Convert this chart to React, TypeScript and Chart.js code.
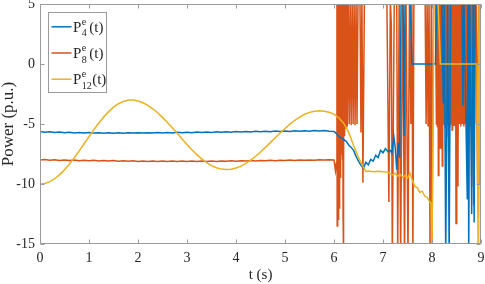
import React, { useEffect, useRef } from "react";
import { Chart, registerables } from "chart.js";

Chart.register(...registerables);

// ---------- data ----------
const X_TICKS = [0, 1, 2, 3, 4, 5, 6, 7, 8, 9];
const Y_TICKS = [-15, -10, -5, 0, 5];
const X_TITLE = "t (s)";
const Y_TITLE = "Power (p.u.)";
const SERIES_SUBS = ["4", "8", "12"];

// common time base 0..6 s (0.1 s)
const BASE_T = [
  0.0, 0.1, 0.2, 0.3, 0.4, 0.5, 0.6, 0.7, 0.8, 0.9,
  1.0, 1.1, 1.2, 1.3, 1.4, 1.5, 1.6, 1.7, 1.8, 1.9,
  2.0, 2.1, 2.2, 2.3, 2.4, 2.5, 2.6, 2.7, 2.8, 2.9,
  3.0, 3.1, 3.2, 3.3, 3.4, 3.5, 3.6, 3.7, 3.8, 3.9,
  4.0, 4.1, 4.2, 4.3, 4.4, 4.5, 4.6, 4.7, 4.8, 4.9,
  5.0, 5.1, 5.2, 5.3, 5.4, 5.5, 5.6, 5.7, 5.8, 5.9,
  6.0,
];

const P4_BASE = [
  -5.62, -5.68, -5.64, -5.70, -5.66, -5.72, -5.68, -5.74, -5.70, -5.75,
  -5.71, -5.76, -5.72, -5.77, -5.73, -5.77, -5.73, -5.77, -5.73, -5.76,
  -5.72, -5.76, -5.72, -5.75, -5.71, -5.75, -5.70, -5.74, -5.69, -5.73,
  -5.68, -5.72, -5.67, -5.71, -5.66, -5.70, -5.65, -5.69, -5.64, -5.68,
  -5.63, -5.67, -5.62, -5.66, -5.61, -5.65, -5.60, -5.64, -5.59, -5.63,
  -5.58, -5.62, -5.57, -5.61, -5.56, -5.60, -5.55, -5.59, -5.55, -5.60,
  -5.62,
];
const P4_TAIL_T = [
  6.05, 6.1, 6.15, 6.2, 6.25, 6.3, 6.35, 6.4, 6.45, 6.5, 6.55, 6.6, 6.65, 6.7, 6.75,
  6.8, 6.85, 6.9, 6.95, 7.0, 7.05, 7.1, 7.15, 7.18, 7.22, 7.25, 7.28, 7.31, 7.34,
  7.37, 7.41, 7.43, 7.45, 7.55, 7.59, 8.07, 8.1, 8.2, 8.23, 8.25, 8.28, 8.32, 8.35,
  8.38, 8.61, 8.63, 8.65, 8.72, 8.735, 8.75, 8.77, 8.81, 8.84, 8.86, 8.88, 9.0,
];
const P4_TAIL_V = [
  -5.8, -6.05, -6.15, -6.3, -6.45, -6.75, -6.95, -7.2, -7.7, -8.1, -8.45, -8.67, -8.2, -8.4, -7.95,
  -8.1, -7.6, -7.8, -7.2, -7.4, -7.05, -7.3, -7.2, -7.45, -6.0, -7.0, -8.8, -6.6, -7.8,
  5.5, 5.5, -6.0, 5.5, 5.5, 0, 0, 5.5, 5.5, -3.3, 5.5, -16, 5.5, -16,
  5.5, 5.5, -3.5, 5.5, -11.3, 5.5, -16, 5.5, -12.5, 5.5, -13.2, 5.5, 5.5,
];

const P8_BASE = [
  -8.00, -7.96, -8.02, -7.98, -8.04, -8.00, -8.05, -8.01, -8.06, -8.02,
  -8.07, -8.03, -8.08, -8.04, -8.09, -8.05, -8.10, -8.06, -8.11, -8.07,
  -8.12, -8.08, -8.12, -8.08, -8.13, -8.09, -8.13, -8.09, -8.13, -8.09,
  -8.13, -8.09, -8.13, -8.09, -8.12, -8.08, -8.12, -8.08, -8.11, -8.07,
  -8.10, -8.06, -8.09, -8.05, -8.08, -8.04, -8.07, -8.03, -8.06, -8.02,
  -8.05, -8.01, -8.04, -8.00, -8.03, -7.99, -8.02, -7.98, -8.01, -7.97,
  -8.00,
];
const P8_TAIL_T = [
  6.03, 6.05, 6.06, 6.065, 6.07, 6.075, 6.08, 6.085, 6.09, 6.095, 6.10, 6.105, 6.11, 6.115, 6.12,
  6.125, 6.13, 6.135, 6.14, 6.145, 6.15, 6.155, 6.16, 6.165, 6.17, 6.175, 6.18, 6.185, 6.19,
  6.195, 6.20, 6.205, 6.21, 6.215, 6.22, 6.225, 6.23, 6.235, 6.24, 6.245, 6.25, 6.255, 6.26,
  6.265, 6.27, 6.29, 6.31, 6.33, 6.35,
  6.37, 6.39, 6.41, 6.43, 6.45, 6.47, 6.49, 6.53, 6.55, 6.57, 6.59, 6.62, 7.08, 7.12,
  7.15, 7.17, 7.19, 7.23, 7.28, 7.30, 7.33, 7.36, 7.40, 7.44, 7.47, 7.51, 7.54, 7.57,
  7.59, 7.61, 7.63, 7.86, 7.88, 7.90, 7.92, 7.94, 7.96, 7.985, 8.00, 8.03, 8.07,
  8.09, 8.10, 8.11, 8.12, 8.13, 8.14, 8.15, 8.16, 8.17, 8.18,
  8.19, 8.20, 8.21, 8.22, 8.23, 8.24, 8.25, 8.26, 8.27, 8.28,
  8.29, 8.30, 8.31, 8.32, 8.33, 8.34, 8.35, 8.36, 8.37, 8.38,
  8.39, 8.40, 8.41, 8.42, 8.43, 8.44, 8.45, 8.46, 8.47, 8.48,
  8.49, 8.50, 8.51, 8.52, 8.53, 8.54, 8.55, 8.56, 8.57, 8.58,
  8.59, 8.60, 8.61, 8.62, 8.63, 8.64, 8.65, 8.66, 8.67, 8.68,
  8.69, 8.70, 8.71, 8.72, 8.73, 8.74, 8.75, 8.76, 8.77, 8.78,
  8.79, 8.80, 8.81, 8.82, 8.83, 8.84, 8.85, 8.86, 8.87, 8.88,
  8.90, 8.93, 8.95, 8.97, 8.99, 9.0,
];
const P8_TAIL_V = [
  -8.9, -8.2, 5.5, -13.5, 5.5, -11.0, 5.5, -9.0, 5.5, -13.0, 5.5, -12.0, 5.5, -7.0, 5.5,
  -6.5, 5.5, -9.5, 5.5, -7.5, 5.5, -6.0, 5.5, -5.5, 5.5, -8.0, 5.5, -12.5, -16,
  5.5, -10.0, 5.5, -5.8, 5.5, -6.0, 5.5, -5.4, 5.5, -5.3, 5.5, -5.3, 5.5, -5.2,
  5.5, -5.2, 5.5, -5.0, 5.5, -5.1,
  5.5, -5.0, 5.5, -5.1, 5.5, -5.0, 5.5, 5.5, -5.7, 5.5, -9.9, 5.0, 5.0, -11.5,
  5.5, 3.2, -16, 5.5, 5.5, -16, 5.5, -16, 5.5, -16, 5.5, -16, 5.5, -5.0,
  5.5, -16, 5.0, 5.0, -5.0, 5.5, -5.2, 5.5, -16, 5.5, -16, 5.5, 5.5,
  -5.0, 5.5, -5.2, 5.5, -9.3, 5.5, -5.0, 5.5, -7.0, 5.5,
  -5.1, 5.5, -8.5, 5.5, -5.0, 5.5, -5.0, 5.5, -5.3, 5.5,
  -6.0, 5.5, -5.0, 5.5, -5.0, 5.5, -5.2, 5.5, -5.0, 5.5,
  -5.0, 5.5, -5.5, 5.5, -5.0, 5.5, -5.1, 5.5, -5.0, 5.5,
  -13.3, 5.5, -8.0, 5.5, -10.2, 5.5, -5.0, 5.5, -5.0, 5.5,
  -5.2, 5.5, -5.0, 5.5, -5.0, 5.5, -5.2, 5.5, -5.0, 5.5,
  -5.0, 5.5, -5.1, 5.5, -5.0, 5.5, -5.0, 5.5, -5.0, 5.5,
  -5.2, 5.5, -10.2, 5.5, -6.0, 5.5, -11.8, 5.5, -5.0, 5.5,
  5.5, -10.0, 5.5, -10.0, 5.5, -10.0,
];

const P12_BASE = [
  -10.0, -9.95, -9.80, -9.56, -9.22, -8.81, -8.33, -7.81, -7.24, -6.65,
  -6.06, -5.47, -4.92, -4.42, -3.97, -3.60, -3.31, -3.12, -3.01, -3.01,
  -3.08, -3.23, -3.45, -3.73, -4.06, -4.45, -4.87, -5.32, -5.78, -6.25,
  -6.71, -7.14, -7.55, -7.91, -8.22, -8.47, -8.65, -8.76, -8.80, -8.77,
  -8.67, -8.51, -8.28, -8.01, -7.69, -7.33, -6.95, -6.55, -6.15, -5.75,
  -5.37, -5.01, -4.69, -4.42, -4.19, -4.03, -3.93, -3.90, -3.93, -4.02,
  -4.18,
];
const P12_TAIL_T = [
  6.1, 6.2, 6.3, 6.4, 6.5, 6.6, 6.65, 6.7, 6.8, 6.9, 7.0, 7.1, 7.15, 7.2, 7.25, 7.3,
  7.35, 7.4, 7.45, 7.5, 7.55, 7.6, 7.65, 7.7, 7.75, 7.8, 7.85, 7.9, 7.95, 7.98, 8.0,
  8.04, 8.12, 8.17, 8.92, 8.94, 8.96, 8.99,
];
const P12_TAIL_V = [
  -4.5, -4.95, -5.7, -6.8, -7.8, -8.6, -8.95, -8.92, -8.97, -8.93, -8.98, -9.0, -9.15, -9.25, -9.1, -9.35,
  -9.2, -9.45, -9.3, -9.5, -9.1, -9.7, -10.2, -10.3, -10.7, -10.6, -11.0, -11.1, -11.45, -11.6, -16,
  5.5, 5.5, 0, 0, -16, 5.5, -16,
];

// ---------- styles ----------
const COLORS = ["#0072BD", "#D95319", "#EDB120"];
const AXIS_COLOR = "#9a9a9a";
const TEXT_COLOR = "#262626";
const FONT = "'Liberation Serif', 'Times New Roman', serif";

function toPoints(t1: number[], v1: number[], t2: number[], v2: number[]) {
  const pts: { x: number; y: number }[] = [];
  t1.forEach((t, i) => pts.push({ x: t, y: v1[i] }));
  t2.forEach((t, i) => pts.push({ x: t, y: v2[i] }));
  return pts;
}

const framePlugin = {
  id: "matlabFrame",
  afterDatasetsDraw(chart: any) {
    const { ctx, chartArea: a, scales } = chart;
    ctx.save();
    ctx.strokeStyle = AXIS_COLOR;
    ctx.lineWidth = 1;
    const L = Math.round(a.left) + 0.5;
    const R = Math.round(a.right) - 0.5;
    const T = Math.round(a.top) + 0.5;
    const B = Math.round(a.bottom) - 0.5;
    ctx.beginPath();
    ctx.rect(L, T, R - L, B - T);
    scales.x.ticks.forEach((tk: any) => {
      const px = Math.round(scales.x.getPixelForValue(tk.value)) + 0.5;
      ctx.moveTo(px, B);
      ctx.lineTo(px, B - 4);
      ctx.moveTo(px, T);
      ctx.lineTo(px, T + 4);
    });
    scales.y.ticks.forEach((tk: any) => {
      const py = Math.round(scales.y.getPixelForValue(tk.value)) + 0.5;
      ctx.moveTo(L, py);
      ctx.lineTo(L + 4, py);
      ctx.moveTo(R, py);
      ctx.lineTo(R - 4, py);
    });
    ctx.stroke();

    // legend
    const bx = 48.5, by = 12.5, bw = 58, bh = 80;
    ctx.fillStyle = "#ffffff";
    ctx.fillRect(bx, by, bw, bh);
    ctx.strokeStyle = AXIS_COLOR;
    ctx.strokeRect(bx, by, bw, bh);
    SERIES_SUBS.forEach((sub, i) => {
      const base = by + 19.3 + i * 26.2;
      ctx.strokeStyle = COLORS[i];
      ctx.lineWidth = 1.5;
      ctx.beginPath();
      ctx.moveTo(51.5, base - 5);
      ctx.lineTo(71.5, base - 5);
      ctx.stroke();
      ctx.fillStyle = TEXT_COLOR;
      ctx.textBaseline = "alphabetic";
      ctx.textAlign = "left";
      ctx.font = `15px ${FONT}`;
      let x = 73;
      ctx.fillText("P", x, base);
      x += ctx.measureText("P").width + 0.5;
      ctx.font = `10px ${FONT}`;
      ctx.fillText("e", x, base - 7);
      const ew = ctx.measureText("e").width;
      ctx.fillText(sub, x, base + 4.5);
      const sw = ctx.measureText(sub).width;
      x += Math.max(ew, sw) + (sub.length === 1 ? 2.5 : 0.3);
      ctx.font = `15px ${FONT}`;
      ctx.fillText("(t)", x, base);
    });
    ctx.restore();
  },
};

export default function App() {
  const ref = useRef<HTMLCanvasElement | null>(null);
  useEffect(() => {
    if (!ref.current) return;
    const data = [
      toPoints(BASE_T, P4_BASE, P4_TAIL_T, P4_TAIL_V),
      toPoints(BASE_T, P8_BASE, P8_TAIL_T, P8_TAIL_V),
      toPoints(BASE_T, P12_BASE, P12_TAIL_T, P12_TAIL_V),
    ];
    const orders = [2, 3, 1];
    const chart = new Chart(ref.current, {
      type: "line",
      data: {
        datasets: data.map((d, i) => ({
          label: `P${SERIES_SUBS[i]}`,
          data: d,
          borderColor: COLORS[i],
          backgroundColor: COLORS[i],
          borderWidth: 1.5,
          pointRadius: 0,
          tension: 0,
          fill: false,
          order: orders[i],
        })),
      },
      options: {
        animation: false,
        responsive: false,
        devicePixelRatio: 1,
        events: [],
        layout: { autoPadding: false, padding: { top: 4, right: 4, left: 0, bottom: 0 } },
        plugins: { legend: { display: false }, tooltip: { enabled: false } },
        scales: {
          x: {
            type: "linear",
            min: 0,
            max: 9,
            afterFit: (s: any) => {
              s.height = 40;
              s.paddingLeft = 0;
              s.paddingRight = 0;
            },
            afterBuildTicks: (s: any) => {
              s.ticks = X_TICKS.map((v) => ({ value: v }));
            },
            grid: { display: false, drawTicks: false },
            border: { display: false },
            ticks: {
              color: TEXT_COLOR,
              font: { family: FONT, size: 14, lineHeight: 1.2 },
              padding: 6,
              maxRotation: 0,
              autoSkip: false,
            },
            title: {
              display: true,
              text: X_TITLE,
              color: TEXT_COLOR,
              font: { family: FONT, size: 15, lineHeight: 1.2 },
              padding: 0,
            },
          },
          y: {
            type: "linear",
            min: -15,
            max: 5,
            afterFit: (s: any) => {
              s.width = 40;
              s.paddingTop = 0;
              s.paddingBottom = 0;
            },
            afterBuildTicks: (s: any) => {
              s.ticks = Y_TICKS.map((v) => ({ value: v }));
            },
            grid: { display: false, drawTicks: false },
            border: { display: false },
            ticks: {
              color: TEXT_COLOR,
              font: { family: FONT, size: 14, lineHeight: 1.2 },
              padding: 5,
              autoSkip: false,
            },
            title: {
              display: true,
              text: Y_TITLE,
              color: TEXT_COLOR,
              font: { family: FONT, size: 17, lineHeight: 1.0 },
              padding: 0,
            },
          },
        },
      },
      plugins: [framePlugin],
    });
    return () => chart.destroy();
  }, []);
  return (
    <div style={{ position: "fixed", left: 0, top: 0, width: 485, height: 284, background: "#fff" }}>
      <canvas ref={ref} width={485} height={284} style={{ display: "block", width: 485, height: 284 }} />
    </div>
  );
}
